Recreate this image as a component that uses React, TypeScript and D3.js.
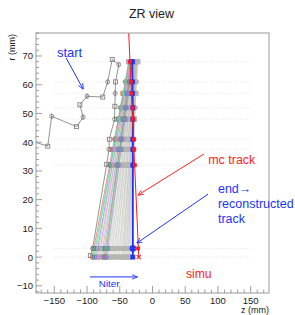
import React, { useRef, useEffect } from 'react';
import * as d3 from 'd3';

// detector layers (r, mm)
const layerR = [0, 3, 32, 37.5, 41, 48, 52, 57, 61, 68];

// the "start" track, hit by hit (first point lies off the left edge)
const startZ = [-200, -160, -154, -116, -106, -111, -100, -76, -68.5, -61.5, -51.5, -56.5, -57, -57.5, -58, -66, -66.5, -70, -91.5, -95];
const startR = [41.5, 38.6, 49, 45.4, 48.7, 53, 56, 55.7, 61, 68.8, 67, 61, 57, 52.5, 48, 41, 37.5, 32.3, 3, 0.5];

// early iterations (coloured): z where each track crosses r=0 and r=68
const colorBottomZ = [-92, -90, -88, -86, -84, -82, -80, -78, -76, -74, -72, -70];
const colorTopZ = [-36, -35, -36, -34, -35, -33, -34, -32, -33, -31, -32, -30];
const iterColors = ['#e8332a', '#38c038', '#35c3d0', '#4a5ee8', '#9ad85a', '#e050e0', '#f39ab8', '#60c080', '#7aa0f0', '#c04848', '#50b050', '#8080e0'];

// later iterations (gray)
const grayBottomZ = [-72, -71, -70, -68, -67, -66, -64, -63, -62, -60, -59, -58, -56, -55, -54, -52, -51, -50, -48, -47,
  -46, -45, -44, -43, -42, -41, -40, -39, -38, -37, -36, -35, -34, -33];
const grayTopZ = [-33, -31, -30, -32, -29, -28, -31, -27, -30, -26, -29, -28, -25, -30, -27, -24, -28, -26, -29, -23,
  -27, -25, -28, -24, -26, -22, -27, -25, -23, -28, -26, -24, -27, -25];

// final reconstructed track and MC truth
const recoZ = [-30, -30, -30, -30, -30, -30, -30, -30.5, -30.5, -31];
const mcZ = [-21, -22, -27, -28, -28.5, -30, -30.5, -32, -33, -34.5];
const mcLineZ = [-21, -37.5];
const mcLineR = [0, 84];

const xTicks = [-150, -100, -50, 0, 50, 100, 150];
const yTicks = [-10, 0, 10, 20, 30, 40, 50, 60, 70];

const FONT = '"Liberation Sans", Arial, sans-serif';

const ZRView = () => {
  const svgRef = useRef<SVGSVGElement>(null);

  useEffect(() => {
    const svg = d3.select(svgRef.current);
    svg.selectAll('*').remove();

    const width = 295;
    const height = 315;
    const margin = { top: 33, right: 26, bottom: 22, left: 36 };

    const x = d3.scaleLinear().domain([-178, 178]).range([margin.left, width - margin.right]);
    const y = d3.scaleLinear().domain([-12.5, 78]).range([height - margin.bottom, margin.top]);

    svg.append('rect').attr('width', width).attr('height', height).attr('fill', '#fff');

    const defs = svg.append('defs');
    defs.append('clipPath').attr('id', 'plotclip')
      .append('rect')
      .attr('x', margin.left).attr('y', margin.top)
      .attr('width', width - margin.left - margin.right)
      .attr('height', height - margin.top - margin.bottom);

    ['blue', 'red'].forEach(c => {
      defs.append('marker')
        .attr('id', 'arr-' + c)
        .attr('viewBox', '0 0 10 10')
        .attr('refX', 9).attr('refY', 5)
        .attr('markerWidth', 6).attr('markerHeight', 6)
        .attr('orient', 'auto')
        .append('path')
        .attr('d', 'M0,1 L10,5 L0,9')
        .attr('fill', 'none')
        .attr('stroke', c === 'blue' ? '#2233ff' : '#ff2222')
        .attr('stroke-width', 1.4);
    });

    // title
    svg.append('text')
      .attr('x', 151.5).attr('y', 17.5)
      .attr('text-anchor', 'middle')
      .attr('font-family', FONT).attr('font-size', 12.5)
      .attr('fill', '#222')
      .text('ZR view');

    const plot = svg.append('g').attr('clip-path', 'url(#plotclip)');

    // dotted layer guides
    plot.append('g')
      .selectAll('line')
      .data(layerR)
      .join('line')
      .attr('x1', x(-150)).attr('x2', x(150))
      .attr('y1', d => y(d)).attr('y2', d => y(d))
      .attr('stroke', '#d8d8e4')
      .attr('stroke-width', 0.8)
      .attr('stroke-dasharray', '1,2');

    const drawMarker = (g, shape, cx, cy, color, filled = false, s = 4) => {
      if (shape === 'square') {
        g.append('rect')
          .attr('x', cx - s / 2).attr('y', cy - s / 2)
          .attr('width', s).attr('height', s)
          .attr('fill', filled ? color : 'none')
          .attr('stroke', color).attr('stroke-width', 0.8);
      } else {
        g.append('circle')
          .attr('cx', cx).attr('cy', cy).attr('r', s / 2)
          .attr('fill', filled ? color : 'none')
          .attr('stroke', color).attr('stroke-width', 0.8);
        g.append('line')
          .attr('x1', cx).attr('x2', cx)
          .attr('y1', cy - s / 2 - 0.8).attr('y2', cy + s / 2 + 0.8)
          .attr('stroke', color).attr('stroke-width', 0.7);
      }
    };

    const drawTrack = (g, z0, z68, color, opacity) => {
      const zOf = d3.scaleLinear().domain([0, 68]).range([z0, z68]);
      g.append('line')
        .attr('x1', x(zOf(0))).attr('y1', y(0))
        .attr('x2', x(zOf(68))).attr('y2', y(68))
        .attr('stroke', color)
        .attr('stroke-width', 0.6)
        .attr('stroke-opacity', opacity);
      layerR.forEach((r, j) => {
        drawMarker(g, j % 2 ? 'square' : 'circle', x(zOf(r)), y(r), color);
      });
    };

    // iterations: gray ones behind, coloured ones on top
    const grayG = plot.append('g').attr('opacity', 0.8);
    grayBottomZ.forEach((z, i) => drawTrack(grayG, z, grayTopZ[i], '#a4a49c', 0.6));
    const colorG = plot.append('g');
    colorBottomZ.forEach((z, i) => drawTrack(colorG, z, colorTopZ[i], iterColors[i], 0.9));

    // start track
    const startPts = startZ.map((z, i) => [x(z), y(startR[i])] as [number, number]);
    plot.append('path')
      .attr('d', d3.line()(startPts))
      .attr('fill', 'none')
      .attr('stroke', '#666')
      .attr('stroke-width', 0.7);
    const startG = plot.append('g');
    startPts.slice(1).forEach((p, i) => {
      drawMarker(startG, i % 2 ? 'circle' : 'square', p[0], p[1], '#777');
    });

    // reconstructed track
    plot.append('path')
      .attr('d', d3.line()(recoZ.map((z, i) => [x(z), y(layerR[i])] as [number, number])))
      .attr('fill', 'none')
      .attr('stroke', '#2030ff')
      .attr('stroke-width', 1.8);
    const recoG = plot.append('g');
    recoZ.forEach((z, i) => {
      drawMarker(recoG, 'square', x(z), y(layerR[i]), '#2030ff', true, 4);
    });
    recoG.append('circle')
      .attr('cx', x(recoZ[1])).attr('cy', y(layerR[1])).attr('r', 3)
      .attr('fill', 'none').attr('stroke', '#2030ff').attr('stroke-width', 1);

    // MC truth
    plot.append('path')
      .attr('d', d3.line()(mcLineZ.map((z, i) => [x(z), y(mcLineR[i])] as [number, number])))
      .attr('fill', 'none')
      .attr('stroke', '#ff1a1a')
      .attr('stroke-width', 1);
    const mcG = plot.append('g');
    mcZ.forEach((z, i) => {
      if (i === 0) {
        const cx = x(z), cy = y(layerR[i]);
        mcG.append('path')
          .attr('d', `M${cx - 2},${cy - 2}L${cx + 2},${cy + 2}M${cx - 2},${cy + 2}L${cx + 2},${cy - 2}`)
          .attr('stroke', '#ff1a1a').attr('stroke-width', 1.2);
      } else {
        drawMarker(mcG, 'square', x(z), y(layerR[i]), '#ff1a1a', true, 3);
      }
    });

    // frame
    svg.append('rect')
      .attr('x', margin.left).attr('y', margin.top)
      .attr('width', width - margin.left - margin.right)
      .attr('height', height - margin.top - margin.bottom)
      .attr('fill', 'none')
      .attr('stroke', '#9a9a9a')
      .attr('stroke-width', 1);

    // x ticks
    const xAxisG = svg.append('g').attr('stroke', '#888').attr('stroke-width', 0.8);
    d3.range(-170, 171, 10).forEach(t => {
      const major = t % 50 === 0;
      xAxisG.append('line')
        .attr('x1', x(t)).attr('x2', x(t))
        .attr('y1', y(-12.5)).attr('y2', y(-12.5) - (major ? 7 : 3.5));
    });
    svg.append('g')
      .selectAll('text')
      .data(xTicks)
      .join('text')
      .attr('x', d => x(d)).attr('y', 304)
      .attr('text-anchor', 'middle')
      .attr('font-family', FONT).attr('font-size', 9.5)
      .attr('fill', '#222')
      .text(d => d3.format('')(d).replace('-', '\u2212'));

    // y ticks
    const yAxisG = svg.append('g').attr('stroke', '#888').attr('stroke-width', 0.8);
    d3.range(-12, 79, 2).forEach(t => {
      const major = t % 10 === 0;
      yAxisG.append('line')
        .attr('x1', x(-178)).attr('x2', x(-178) + (major ? 6 : 3))
        .attr('y1', y(t)).attr('y2', y(t));
    });
    svg.append('g')
      .selectAll('text')
      .data(yTicks)
      .join('text')
      .attr('x', 33).attr('y', d => y(d) + 3.5)
      .attr('text-anchor', 'end')
      .attr('font-family', FONT).attr('font-size', 9.5)
      .attr('fill', '#222')
      .text(d => d3.format('')(d).replace('-', '\u2212'));

    // axis titles
    svg.append('text')
      .attr('x', width - margin.right).attr('y', 312.5)
      .attr('text-anchor', 'end')
      .attr('font-family', FONT).attr('font-size', 9)
      .attr('fill', '#222')
      .text('z (mm)');
    svg.append('text')
      .attr('transform', 'translate(14.5,34) rotate(-90)')
      .attr('text-anchor', 'end')
      .attr('font-family', FONT).attr('font-size', 9)
      .attr('fill', '#222')
      .text('r (mm)');

    // annotations
    const arrow = (z1, r1, z2, r2, c) => {
      svg.append('line')
        .attr('x1', x(z1)).attr('y1', y(r1))
        .attr('x2', x(z2)).attr('y2', y(r2))
        .attr('stroke', c === 'blue' ? '#2233ff' : '#ff2222')
        .attr('stroke-width', 1)
        .attr('marker-end', `url(#arr-${c})`);
    };
    const label = (z, r, txt, c, size) => {
      svg.append('text')
        .attr('x', x(z)).attr('y', y(r))
        .attr('font-family', FONT).attr('font-size', size)
        .attr('fill', c)
        .text(txt);
    };

    label(-146, 69.8, 'start', '#2233ff', 13);
    arrow(-132, 69.3, -106, 58.5, 'blue');

    label(85, 32.4, 'mc track', '#ff2222', 12.5);
    arrow(78.7, 35.9, -22, 21.6, 'red');

    label(100, 22.3, 'end\u2192', '#2233ff', 12.5);
    label(100, 17.1, 'reconstructed', '#2233ff', 12.5);
    label(100, 11.9, 'track', '#2233ff', 12.5);
    arrow(84.8, 21.9, -23.7, 4.9, 'blue');

    label(51, -7.3, 'simu', '#ff2222', 12.2);

    arrow(-95.5, -6.9, -23.7, -6.9, 'blue');
    label(-82, -10.4, 'Niter', '#2233ff', 9.8);
  }, []);

  return (
    <svg ref={svgRef} width={295} height={315} style={{ position: 'absolute', left: 0, top: 0 }}></svg>
  );
};

export default function App() {
  return <ZRView />;
}
